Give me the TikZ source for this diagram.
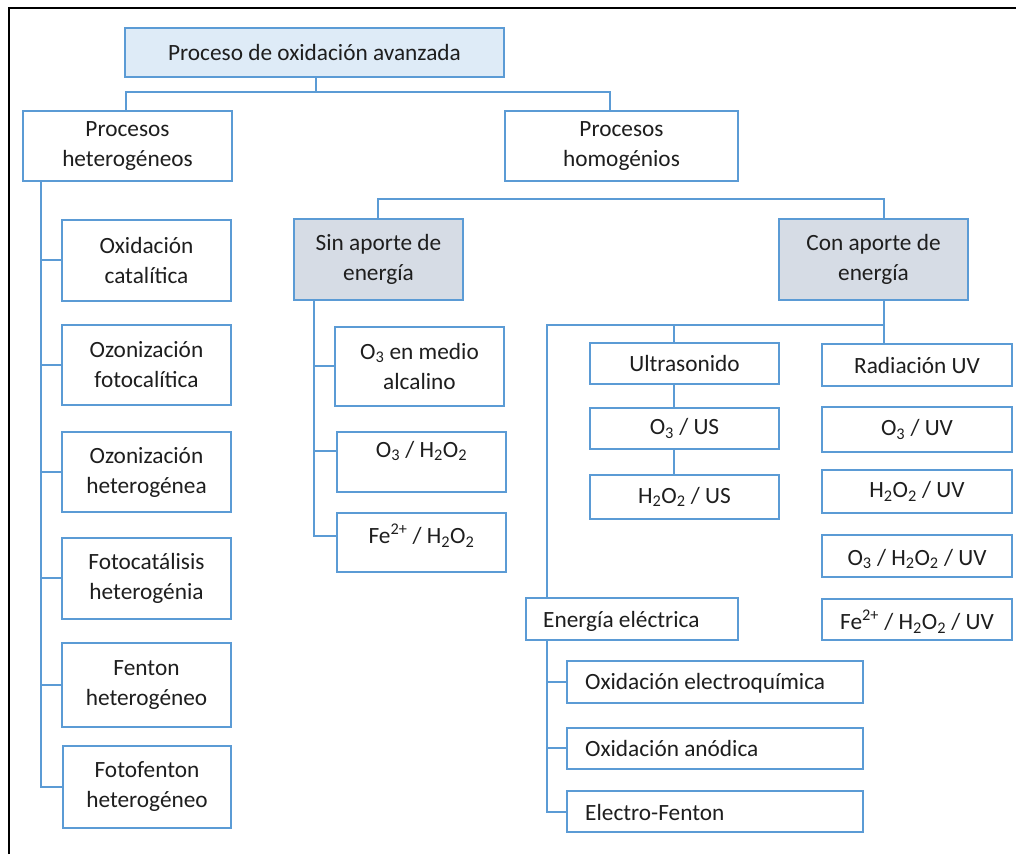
\documentclass[tikz,border=0pt]{standalone}
\usepackage{fontspec}
\setmainfont{Carlito}
\usetikzlibrary{calc}
\definecolor{bordc}{HTML}{5B9BD5}
\definecolor{topfill}{HTML}{DEEBF7}
\definecolor{grayfill}{HTML}{D6DCE5}
\definecolor{txtc}{HTML}{1E1E1E}
\newcommand{\sbs}[1]{\textsubscript{#1}}
\newcommand{\sps}[1]{\textsuperscript{#1}}
\begin{document}
\begin{tikzpicture}[x=1pt,y=-1pt,
  box/.style={draw=bordc, line width=2pt, fill=white, inner sep=0pt, align=center,
    text=txtc, font=\fontsize{23.3}{30}\selectfont},
  txt/.style={inner sep=0pt, align=center, text=txtc, font=\fontsize{23.3}{30}\selectfont},
  conn/.style={draw=bordc, line width=2pt},
  frame/.style={draw=black, line width=2.8pt}]
\useasboundingbox (0,0) rectangle (1016,854);
% frame
\coordinate (fA) at (9,854);
\coordinate (fB) at (9,8);
\coordinate (fC) at (1016,8);
\draw[frame] (fA) -- (fB) -- (fC);

% level 0-1
\node[box, fill=topfill, minimum width=379pt, minimum height=49pt] (top) at (314.5,52.5) {Proceso de oxidación avanzada};
\node[box, minimum width=209pt, minimum height=70pt] (het) at (127.5,146) {Procesos\\heterogéneos};
\node[box, minimum width=233pt, minimum height=70pt] (hom) at (621.5,146) {Procesos\\homogénios};

% heterogeneous children
\node[box, minimum width=169pt, minimum height=81pt] (oxcat) at (146.5,260) {Oxidación\\catalítica};
\node[box, minimum width=169pt, minimum height=80pt] (ozfot) at (146.5,365) {Ozonización\\fotocalítica};
\node[box, minimum width=169pt, minimum height=80pt] (ozhet) at (146.5,472) {Ozonización\\heterogénea};
\node[box, minimum width=169pt, minimum height=81pt] (fothet) at (146.5,578) {Fotocatálisis\\heterogénia};
\node[box, minimum width=169pt, minimum height=84pt] (fenton) at (146.5,685) {Fenton\\heterogéneo};
\node[box, minimum width=168pt, minimum height=82pt] (fotofen) at (147,787) {Fotofenton\\heterogéneo};

% homogeneous
\node[box, fill=grayfill, minimum width=169pt, minimum height=81pt] (sin) at (378.5,259.5) {Sin aporte de\\energía};
\node[box, fill=grayfill, minimum width=189pt, minimum height=81pt] (con) at (873.5,259.5) {Con aporte de\\energía};

\node[box, minimum width=169pt, minimum height=79pt] (o3alc) at (419.5,366) {O\sbs{3} en medio\\alcalino};
\node[box, minimum width=169pt, minimum height=60pt] (o3h2o2) at (421.5,462) {};
\node[txt] (o3h2o2t) at (421.5,451) {O\sbs{3} / H\sbs{2}O\sbs{2}};
\node[box, minimum width=169pt, minimum height=59pt] (feh2o2) at (421.5,542.5) {};
\node[txt] (feh2o2t) at (421.5,536) {Fe\sps{2+} / H\sbs{2}O\sbs{2}};

\node[box, minimum width=189pt, minimum height=41pt] (ultra) at (684.5,363.5) {Ultrasonido};
\node[box, minimum width=189pt, minimum height=41pt] (o3us) at (684.5,428.5) {O\sbs{3} / US};
\node[box, minimum width=189pt, minimum height=44pt] (h2o2us) at (684.5,497) {H\sbs{2}O\sbs{2} / US};

\node[box, minimum width=190pt, minimum height=42pt] (raduv) at (917,365) {Radiación UV};
\node[box, minimum width=190pt, minimum height=45pt] (o3uv) at (917,429.5) {O\sbs{3} / UV};
\node[box, minimum width=190pt, minimum height=43pt] (h2o2uv) at (917,491.5) {H\sbs{2}O\sbs{2} / UV};
\node[box, minimum width=190pt, minimum height=42pt] (o3h2o2uv) at (917,556) {};
\node[txt] (o3h2o2uvt) at (917,559) {O\sbs{3} / H\sbs{2}O\sbs{2} / UV};
\node[box, minimum width=190pt, minimum height=41pt] (feuv) at (917,619.5) {};
\node[txt] (feuvt) at (917,622) {Fe\sps{2+} / H\sbs{2}O\sbs{2} / UV};

\node[box, minimum width=212pt, minimum height=42pt] (energ) at (632,619) {};
\node[txt, anchor=west] (energt) at (543,621) {Energía eléctrica};

\node[box, minimum width=296pt, minimum height=42pt] (oxel) at (715,682) {};
\node[txt, anchor=west] (oxelt) at (585,683) {Oxidación electroquímica};
\node[box, minimum width=296pt, minimum height=41pt] (oxan) at (715,748.5) {};
\node[txt, anchor=west] (oxant) at (585,748) {Oxidación anódica};
\node[box, minimum width=296pt, minimum height=41pt] (ef) at (715,811.5) {};
\node[txt, anchor=west] (eft) at (585,812) {Electro-Fenton};

% connectors: top level
\coordinate (j0) at (316,92);
\draw[conn] ([xshift=1.5pt]top.south) -- (j0);
\draw[conn] (j0) -| ([xshift=-1.5pt]het.north);
\draw[conn] (j0) -| ([xshift=-11.5pt]hom.north);

% heterogeneous bus
\coordinate (hb) at (41,181);
\draw[conn] (hb) |- (fotofen.west);
\foreach \n in {oxcat,ozfot,ozhet,fothet,fenton}
  \draw[conn] (\n.west) -- (\n.west -| hb);

% sin / con bracket
\coordinate (j1) at (378,199);
\coordinate (j2) at (884,199);
\draw[conn] (sin.north -| j1) -- (j1) -- (j2) -- (con.north -| j2);

% sin bus
\coordinate (sb) at (314,300);
\draw[conn] (sb) |- (feh2o2t.west -| feh2o2.west);
\draw[conn] (o3alc.west) -- (o3alc.west -| sb);
\draw[conn] (o3h2o2t.west -| o3h2o2.west) -- (o3h2o2t.west -| sb);

% con bus
\coordinate (cb) at (884,325);
\coordinate (eb) at (547,325);
\coordinate (ub) at (674,325);
\draw[conn] (con.south -| cb) -- (raduv.north -| cb);
\draw[conn] (cb) -- (eb) -- (energ.north -| eb);
\draw[conn] (ub) -- (ultra.north -| ub);
\draw[conn] (ultra.south -| ub) -- (o3us.north -| ub);
\draw[conn] (o3us.south -| ub) -- (h2o2us.north -| ub);

% energy bus
\draw[conn] (energ.south -| eb) |- (eft.west -| ef.west);
\draw[conn] (oxel.west) -- (oxel.west -| eb);
\draw[conn] (oxant.west -| oxan.west) -- (oxant.west -| eb);
\end{tikzpicture}
\end{document}
